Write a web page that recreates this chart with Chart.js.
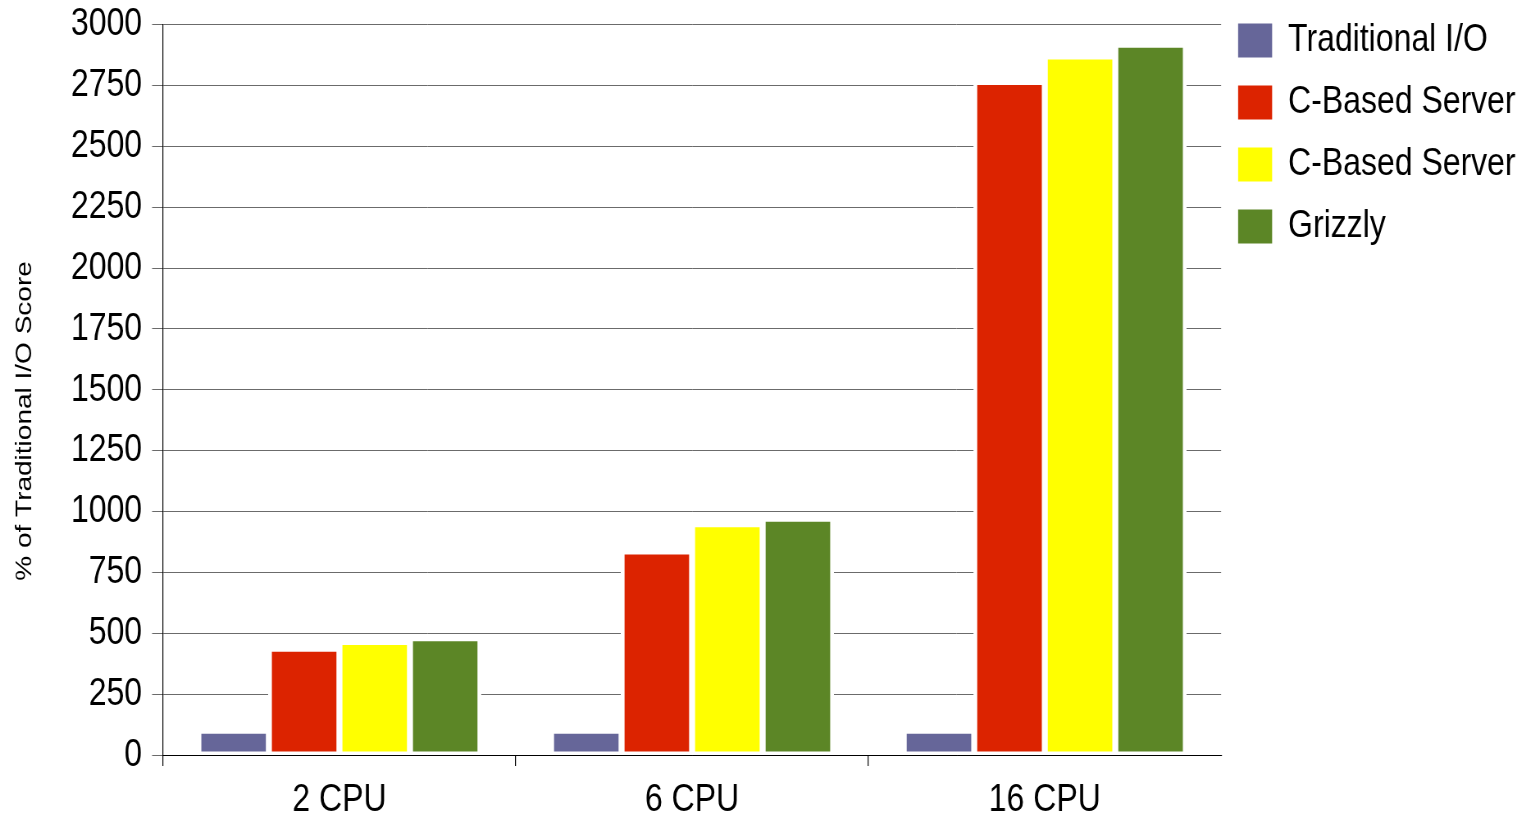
<!DOCTYPE html>
<html>
<head>
<meta charset="utf-8">
<script src="https://cdn.jsdelivr.net/npm/chart.js@4.4.1/dist/chart.umd.min.js"></script>
<style>
  html, body { margin: 0; padding: 0; background: #ffffff; overflow: hidden; }
  /* Narrow (Helvetica-Narrow-like) rendering: the chart is drawn wider and condensed horizontally */
  #wrap { width: 1866px; height: 817px; position: relative; transform: scaleX(0.82); transform-origin: 0 0; }
</style>
</head>
<body>
<div id="wrap"><canvas id="c"></canvas></div>
<script>
const categories = ['2 CPU', '6 CPU', '16 CPU'];
const seriesNames = ['Traditional I/O', 'C-Based Server', 'C-Based Server', 'Grizzly'];
const traditionalIO = [100, 100, 100];
const cBasedServerA = [436, 836, 2765];
const cBasedServerB = [464, 948, 2869];
const grizzly = [480, 970, 2918];
const yTickValues = [0, 250, 500, 750, 1000, 1250, 1500, 1750, 2000, 2250, 2500, 2750, 3000];
const seriesColors = ['#666699', '#dc2300', '#ffff00', '#5c8626'];
const yTitle = '% of Traditional I/O Score';

const font = "'Liberation Sans', Arial, sans-serif";
const seriesValues = [traditionalIO, cBasedServerA, cBasedServerB, grizzly];

const legendShift = {
  id: 'legendShift',
  afterLayout(chart) {
    const lg = chart.legend;
    const dx = (chart.chartArea.right - 2.3) - lg.left;
    const dy = -2 - lg.top;
    lg.left += dx; lg.right += dx;
    lg.top += dy; lg.bottom += dy;
  }
};

new Chart(document.getElementById('c'), {
  type: 'bar',
  data: {
    labels: categories,
    datasets: seriesValues.map((vals, i) => ({
      label: seriesNames[i],
      data: vals,
      backgroundColor: seriesColors[i],
      borderColor: '#ffffff',
      borderWidth: { left: 4.66, right: 4.66, top: 4, bottom: 4 },
      borderSkipped: false,
      inflateAmount: 1,
      barPercentage: 1,
      categoryPercentage: 0.8
    }))
  },
  options: {
    responsive: true,
    maintainAspectRatio: false,
    animation: false,
    devicePixelRatio: 1,
    layout: { padding: { top: 24.7, right: 5.4, left: 0, bottom: -18 } },
    plugins: {
      tooltip: { enabled: false },
      legend: {
        position: 'right',
        align: 'start',
        labels: {
          boxWidth: 41.5,
          boxHeight: 34,
          padding: 23,
          color: '#000000',
          font: { family: font, size: 39 },
          generateLabels(chart) {
            const items = Chart.defaults.plugins.legend.labels.generateLabels(chart);
            items.forEach(it => { it.lineWidth = 0; it.strokeStyle = 'rgba(0,0,0,0)'; });
            return items;
          }
        }
      }
    },
    scales: {
      x: {
        offset: true,
        grid: {
          offset: true,
          drawOnChartArea: false,
          drawTicks: true,
          tickLength: 11,
          lineWidth: 1.22,
          color: ctx => (ctx.type === 'tick' ? '#000000' : 'rgba(0,0,0,0)')
        },
        border: { display: true, color: '#000000', width: 1 },
        ticks: {
          color: '#000000',
          padding: 15,
          font: { family: font, size: 39, lineHeight: 1.0 }
        }
      },
      y: {
        min: 0,
        max: 3000,
        afterBuildTicks(scale) { scale.ticks = yTickValues.map(v => ({ value: v })); },
        grid: {
          color: '#6b6b6b',
          lineWidth: 1,
          drawTicks: true,
          tickLength: 13.4
        },
        border: { display: true, color: '#000000', width: 1.22 },
        ticks: {
          color: '#000000',
          padding: 12.2,
          font: { family: font, size: 39, lineHeight: 0.6 },
          callback: v => String(v)
        },
        title: {
          display: true,
          text: yTitle + '        ',
          color: '#000000',
          font: { family: font, size: 28, lineHeight: 1.2 },
          padding: { top: 13.7, bottom: 27 }
        }
      }
    }
  },
  plugins: [legendShift]
});
</script>
</body>
</html>
